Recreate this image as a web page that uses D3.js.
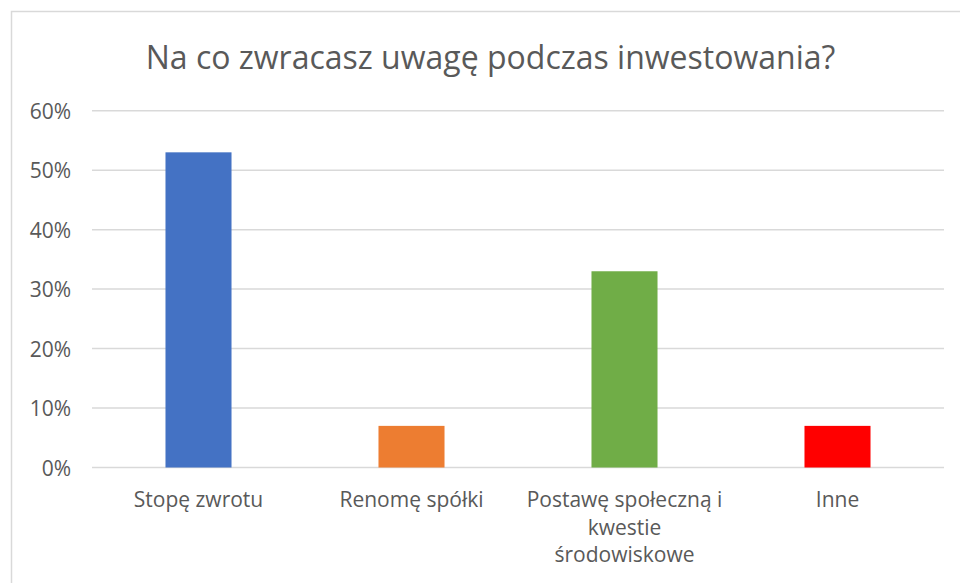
<!DOCTYPE html>
<html>
<head>
<meta charset="utf-8">
<script src="https://cdn.jsdelivr.net/npm/d3@7"></script>
<style>
  html, body { margin: 0; padding: 0; background: #fff; }
  svg { display: block; }
  text { font-family: "Open Sans", "Noto Sans", sans-serif; fill: #595959; }
</style>
</head>
<body>
<svg id="chart" width="960" height="583"></svg>
<script>
const title = "Na co zwracasz uwagę podczas inwestowania?";
const categories = ["Stopę zwrotu", "Renomę spółki", "Postawę społeczną i kwestie środowiskowe", "Inne"];
const categoryLines = [["Stopę zwrotu"], ["Renomę spółki"], ["Postawę społeczną i", "kwestie", "środowiskowe"], ["Inne"]];
const values = [0.53, 0.07, 0.33, 0.07];
const colors = ["#4472C4", "#ED7D31", "#70AD47", "#FF0000"];
const yTicks = [0, 0.1, 0.2, 0.3, 0.4, 0.5, 0.6];

const svg = d3.select("#chart");
const W = 960, H = 583;
const plot = { left: 92, right: 944, top: 110.7, bottom: 467.5 };

// outer chart border
svg.append("rect")
  .attr("x", 11.5).attr("y", 11.5)
  .attr("width", W + 20).attr("height", H + 20)
  .attr("fill", "none").attr("stroke", "#d9d9d9").attr("stroke-width", 1.5);

const x = d3.scaleBand().domain(categories).range([plot.left, plot.right]).paddingInner(0.69).paddingOuter(0.345);
const y = d3.scaleLinear().domain([0, 0.6]).range([plot.bottom, plot.top]);

// gridlines
svg.append("g").selectAll("line").data(yTicks).join("line")
  .attr("x1", plot.left).attr("x2", plot.right)
  .attr("y1", d => y(d)).attr("y2", d => y(d))
  .attr("stroke", "#d9d9d9").attr("stroke-width", 1.5);

// y axis labels
const yAxis = d3.axisLeft(y).tickValues(yTicks).tickFormat(d3.format(".0%")).tickSize(0).tickPadding(0);
const gy = svg.append("g").attr("transform", "translate(71,0)").call(yAxis);
gy.select(".domain").remove();
gy.selectAll("text").attr("font-size", 21).attr("fill", "#595959")
  .style("font-family", "'Open Sans', sans-serif").attr("dy", "0.36em");

// bars
svg.append("g").selectAll("rect").data(values).join("rect")
  .attr("x", (d, i) => x(categories[i]))
  .attr("width", x.bandwidth())
  .attr("y", d => y(d))
  .attr("height", d => y(0) - y(d))
  .attr("fill", (d, i) => colors[i]);

// category labels
const gx = svg.append("g");
categories.forEach((c, i) => {
  const t = gx.append("text")
    .attr("x", x(c) + x.bandwidth() / 2)
    .attr("y", 507)
    .attr("text-anchor", "middle")
    .attr("font-size", 21);
  categoryLines[i].forEach((ln, j) => {
    t.append("tspan").attr("x", x(c) + x.bandwidth() / 2).attr("dy", j === 0 ? 0 : 27.5).text(ln);
  });
});

// title
svg.append("text")
  .attr("x", 490.5).attr("y", 69)
  .attr("text-anchor", "middle")
  .attr("font-size", 32)
  .text(title);
</script>
</body>
</html>
